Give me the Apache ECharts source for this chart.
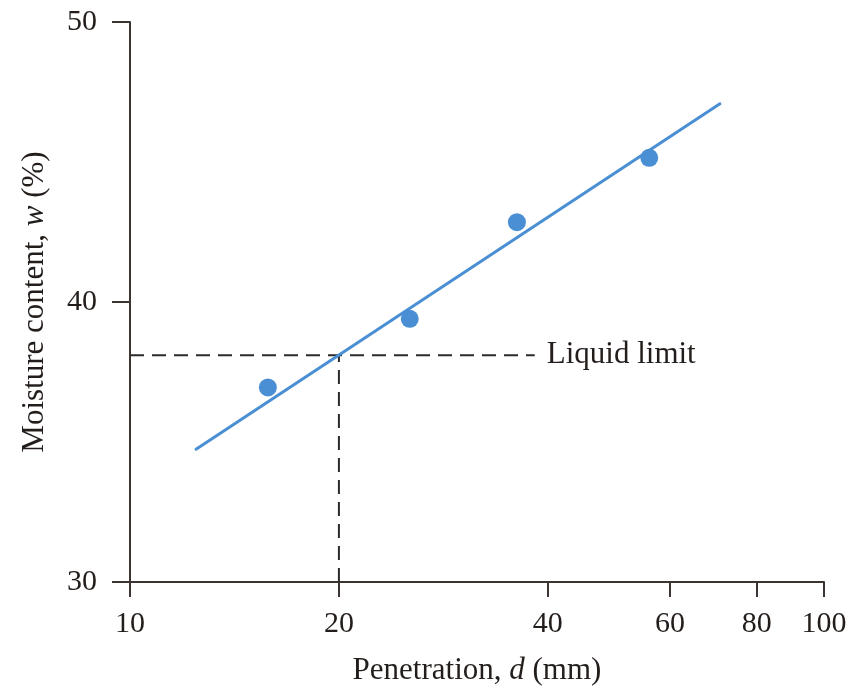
<!DOCTYPE html>
<html>
<head>
<meta charset="utf-8">
<script src="https://cdn.jsdelivr.net/npm/echarts@6/dist/echarts.min.js"></script>
<style>
html,body{margin:0;padding:0;background:#fff;}
#chart{width:862px;height:691px;}
</style>
</head>
<body>
<div id="chart"></div>
<script>
// Data
const xTicks = [10, 20, 40, 60, 80, 100];
const yTicks = [30, 40, 50];
const penetration = [15.8, 25.3, 36.1, 56.0];
const moisture = [36.95, 39.4, 42.85, 45.15];
const fitX = [12.45, 70.8];
const fitY = [34.74, 47.08];
const liquidLimit = 38.1;
const liquidLimitD = 20;
const guideEndD = 38.3;

const font = 'Liberation Serif';
const axisColor = '#3b3431';
const textColor = '#231e1b';
const titleSize = 31;

const chart = echarts.init(document.getElementById('chart'));
chart.setOption({
  animation: false,
  backgroundColor: '#fff',
  grid: {left: 130, right: 38, top: 22, bottom: 107, containLabel: false},
  xAxis: {
    type: 'log', logBase: 10, min: 10, max: 100,
    name: 'Penetration, {i|d} (mm)',
    nameLocation: 'middle', nameGap: 73,
    nameTextStyle: {fontFamily: font, fontSize: titleSize, color: textColor,
      rich: {i: {fontFamily: font, fontSize: titleSize, fontStyle: 'italic', color: textColor}}},
    axisLine: {lineStyle: {color: axisColor, width: 2}},
    axisTick: {show: true, length: 15, inside: false, customValues: xTicks,
      lineStyle: {color: axisColor, width: 2}},
    axisLabel: {customValues: xTicks, fontFamily: font, fontSize: 30, color: textColor, margin: 27},
    minorTick: {show: false},
    splitLine: {show: false}
  },
  yAxis: {
    type: 'value', min: yTicks[0], max: yTicks[yTicks.length - 1], interval: 10,
    name: 'Moisture content, {i|w} (%)',
    nameLocation: 'middle', nameGap: 80,
    nameTextStyle: {fontFamily: font, fontSize: titleSize, color: textColor,
      rich: {i: {fontFamily: font, fontSize: titleSize, fontStyle: 'italic', color: textColor}}},
    axisLine: {show: true, lineStyle: {color: axisColor, width: 2}},
    axisTick: {show: true, length: 18, lineStyle: {color: axisColor, width: 2}},
    axisLabel: {fontFamily: font, fontSize: 30, color: textColor, margin: 33},
    splitLine: {show: false}
  },
  series: [
    {
      type: 'line',
      data: [[10, liquidLimit], [guideEndD, liquidLimit]],
      symbol: 'none',
      lineStyle: {color: '#2e2a28', width: 2, type: [14, 8]},
      endLabel: {show: true, formatter: 'Liquid limit', fontFamily: font, fontSize: titleSize,
        color: textColor, distance: 12},
      z: 1
    },
    {
      type: 'line',
      data: [[liquidLimitD, yTicks[0]], [liquidLimitD, liquidLimit]],
      symbol: 'none',
      lineStyle: {color: '#2e2a28', width: 2, type: [14, 8]},
      z: 1
    },
    {
      type: 'line',
      data: fitX.map((x, i) => [x, fitY[i]]),
      symbol: 'none',
      lineStyle: {color: '#4a8fd4', width: 3, cap: 'round'},
      z: 2
    },
    {
      type: 'scatter',
      data: penetration.map((x, i) => [x, moisture[i]]),
      symbol: 'circle', symbolSize: 18,
      itemStyle: {color: '#4a8fd4', opacity: 1},
      z: 3
    }
  ]
});
</script>
</body>
</html>
